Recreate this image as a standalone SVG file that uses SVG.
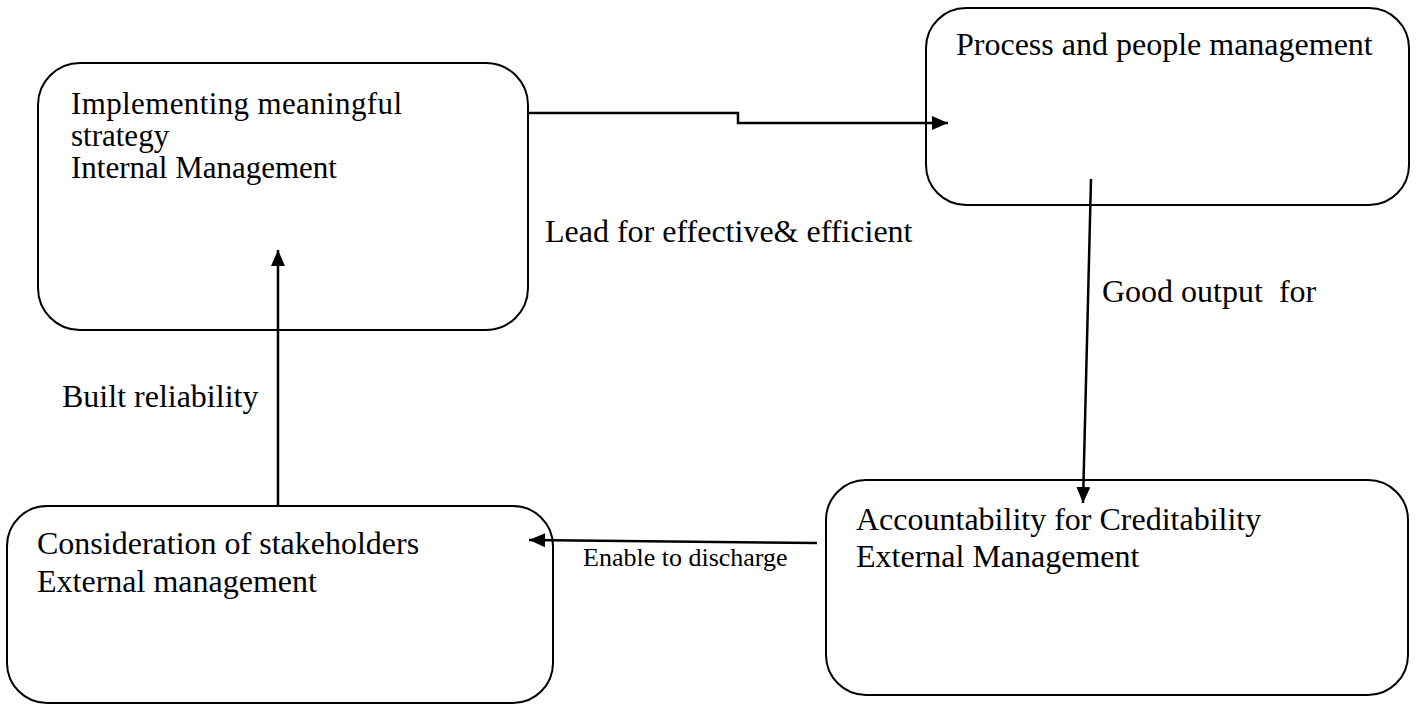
<svg xmlns="http://www.w3.org/2000/svg" width="1416" height="705" viewBox="0 0 1416 705">
<style>
.box{fill:#fff;stroke:#000;stroke-width:2}
.t{font-family:"Liberation Serif","Times New Roman",serif;font-size:32px;fill:#000}
.t1{font-family:"Liberation Serif","Times New Roman",serif;font-size:31px;fill:#000}
.s{font-family:"Liberation Serif","Times New Roman",serif;font-size:26px;fill:#000}
.c{fill:none;stroke:#000;stroke-width:2.5}
</style>
<defs>
<marker id="ah" markerWidth="16" markerHeight="14" refX="16" refY="7" orient="auto" markerUnits="userSpaceOnUse">
<path d="M0,0 L16,7 L0,14 Z" fill="#000"/>
</marker>
</defs>
<rect width="1416" height="705" fill="#fff"/>
<g id="node-implementing">
<rect class="box" x="38" y="63" width="490" height="267" rx="42"/>
<text class="t1" x="71" y="114" textLength="331">Implementing meaningful</text>
<text class="t1" x="71" y="146">strategy</text>
<text class="t1" x="71" y="178">Internal Management</text>
</g>
<g id="node-process">
<rect class="box" x="926" y="8" width="483" height="197" rx="40"/>
<text class="t" x="956" y="55">Process and people management</text>
</g>
<g id="node-consideration">
<rect class="box" x="7" y="506" width="546" height="197" rx="40"/>
<text class="t" x="37" y="554">Consideration of stakeholders</text>
<text class="t" x="37" y="592">External management</text>
</g>
<g id="node-accountability">
<rect class="box" x="826" y="480" width="582" height="215" rx="40"/>
<text class="t" x="856" y="530">Accountability for Creditability</text>
<text class="t" x="856" y="567">External Management</text>
</g>
<g id="connectors">
<path class="c" d="M528,113 H738 V123 H948" marker-end="url(#ah)"/>
<path class="c" d="M1091,179 L1083,503" marker-end="url(#ah)"/>
<path class="c" d="M817,543 L529,540" marker-end="url(#ah)"/>
<path class="c" d="M278,506 V250" marker-end="url(#ah)"/>
<text class="t" x="545" y="242">Lead for effective&amp; efficient</text>
<text class="t" x="1102" y="302" xml:space="preserve" style="white-space:pre">Good output  for</text>
<text class="t" x="62" y="407">Built reliability</text>
<text class="s" x="583" y="566">Enable to discharge</text>
</g>
</svg>
